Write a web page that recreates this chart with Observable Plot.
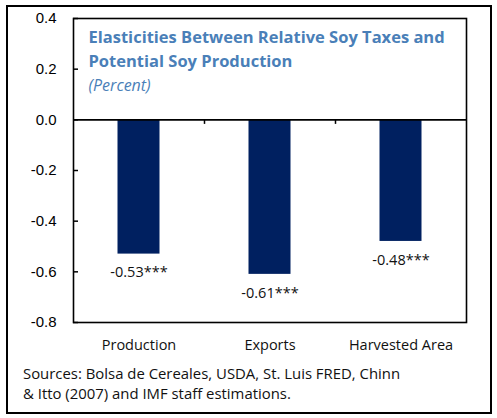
<!DOCTYPE html>
<html><head><meta charset="utf-8">
<script src="https://cdn.jsdelivr.net/npm/d3@7"></script>
<script src="https://cdn.jsdelivr.net/npm/@observablehq/plot@0.6"></script>
<style>
html,body{margin:0;padding:0;background:#fff;}
#wrap{position:relative;width:497px;height:418px;overflow:hidden;font-family:"Open Sans",sans-serif;}
#border{position:absolute;left:6px;top:5px;width:482px;height:405px;border:2px solid #000;}
#chart{position:absolute;left:0;top:0;}
#caption{position:absolute;left:23px;top:363px;font-size:14.9px;line-height:20px;color:#111;}
</style></head>
<body>
<div id="wrap"><div id="border"></div><div id="chart"></div>
<div id="caption">Sources: Bolsa de Cereales, USDA, St. Luis FRED, Chinn<br>&amp; Itto (2007) and IMF staff estimations.</div></div>
<script>
const categories = ["Production", "Exports", "Harvested Area"];
const values = [-0.53, -0.61, -0.48];
const valueLabels = ["-0.53***", "-0.61***", "-0.48***"];
const yTicks = [-0.8, -0.6, -0.4, -0.2, 0.0, 0.2, 0.4];
const titleLines = ["Elasticities Between Relative Soy Taxes and", "Potential Soy Production"];
const subtitle = "(Percent)";

const data = categories.map((c, i) => ({cat: c, i, value: values[i], label: valueLabels[i]}));
const blue = "#4a7fb8";

const plot = Plot.plot({
  width: 497, height: 360,
  marginLeft: 73, marginRight: 31, marginTop: 18, marginBottom: 38,
  style: {fontFamily: "Open Sans, sans-serif", background: "transparent"},
  x: {domain: [0, categories.length], axis: null},
  y: {domain: [-0.8, 0.4], axis: null},
  marks: [
    Plot.rectY(data, {x1: d => d.i, x2: d => d.i + 1, y1: 0, y2: "value", fill: "#002060", insetLeft: 44.5, insetRight: 44.5}),
    Plot.ruleY([0], {stroke: "#000", strokeWidth: 1.6}),
    Plot.ruleX([1, 2], {x: d => d, y1: 0, y2: -0.018, stroke: "#000", strokeWidth: 1.5}),
    Plot.frame({stroke: "#000", strokeWidth: 1.6}),
    Plot.axisY({ticks: yTicks, tickSize: -5, tickPadding: 22, tickFormat: d => d.toFixed(1), label: null,
      fontFamily: "Liberation Sans, Arial, sans-serif", fontSize: 15, stroke: "#000", strokeWidth: 1.5, color: "#000"}),
    Plot.text(data, {x: d => d.i + 0.5, y: "value", text: "label", lineAnchor: "top", dy: 13, fontSize: 14.5, fill: "#111"}),
    Plot.text(data, {x: d => d.i + 0.5, text: "cat", frameAnchor: "bottom", lineAnchor: "bottom", dy: 27, fontSize: 14.5, fill: "#111"}),
    Plot.text([titleLines.join("\n")], {frameAnchor: "top-left", dx: 15, dy: 8, lineAnchor: "top", lineHeight: 1.44, textAnchor: "start", fontSize: 16.5, fontWeight: "bold", fill: blue}),
    Plot.text([subtitle], {frameAnchor: "top-left", dx: 15, dy: 61, lineAnchor: "top", textAnchor: "start", fontSize: 16, fontStyle: "italic", fill: blue})
  ]
});
document.getElementById("chart").appendChild(plot);
</script>
</body></html>
